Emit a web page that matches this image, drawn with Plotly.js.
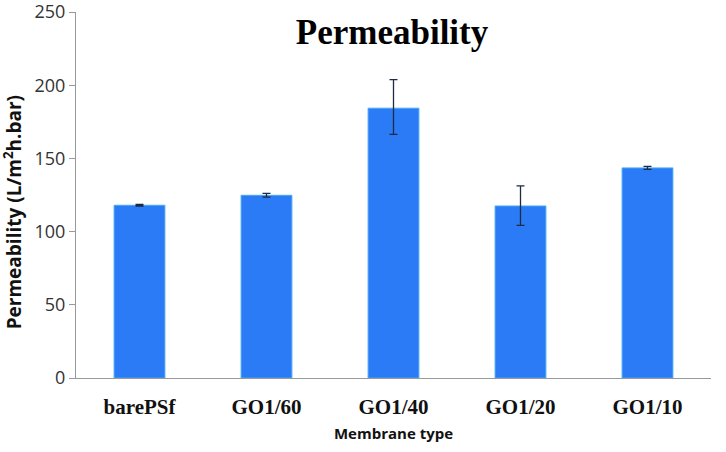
<!DOCTYPE html>
<html>
<head>
<meta charset="utf-8">
<script src="https://cdn.plot.ly/plotly-3.0.1.min.js"></script>
<style>
  html, body { margin: 0; padding: 0; background: #fff; }
  #chart { width: 726px; height: 452px; }
</style>
</head>
<body>
<div id="chart"></div>
<script>
// membrane types and measured permeability
const membranes = ["barePSf", "GO1/60", "GO1/40", "GO1/20", "GO1/10"];
const permeability = [118, 124.8, 184.3, 117.5, 143.5];
const errPlus = [0.5, 1.3, 19.5, 13.8, 1.0];
const errMinus = [0.5, 1.3, 17.9, 13.3, 1.0];
const yTicks = [0, 50, 100, 150, 200, 250];

var data = [{
    x: membranes,
    y: permeability,
    type: "bar",
    marker: { color: "#2b7bf7", line: { color: "#45a8f5", width: 1 } },
    error_y: {
        type: "data",
        symmetric: false,
        array: errPlus,
        arrayminus: errMinus,
        color: "#1f2a44",
        thickness: 1.3,
        width: 4
    },
    hoverinfo: "none"
}];

var layout = {
    width: 726,
    height: 452,
    margin: { l: 76, r: 15, t: 12, b: 74 },
    paper_bgcolor: "#fff",
    plot_bgcolor: "#fff",
    bargap: 0.6,
    showlegend: false,
    title: {
        text: "<b>Permeability</b>",
        font: { family: "Liberation Serif, Times New Roman, serif", size: 35, color: "#000" },
        x: 0.54, xanchor: "center",
        y: 0.93, yanchor: "middle"
    },
    xaxis: {
        showline: true,
        linecolor: "#999",
        linewidth: 1,
        ticks: "",
        tickvals: membranes,
        ticktext: membranes.map(m => "<b>" + m + "</b>"),
        tickfont: { family: "Liberation Serif, Times New Roman, serif", size: 21, color: "#111" },
        ticklabelstandoff: 10,
        title: {
            text: "<b>Membrane type</b>",
            font: { family: "Open Sans, sans-serif", size: 15, color: "#111" },
            standoff: 10
        }
    },
    yaxis: {
        range: [0, 250.01],
        tickvals: yTicks,
        showline: true,
        linecolor: "#999",
        linewidth: 1,
        ticks: "outside",
        ticklen: 6,
        tickcolor: "#999",
        showgrid: false,
        zeroline: false,
        ticklabeloverflow: "allow",
        tickfont: { family: "Open Sans, sans-serif", size: 18, color: "#333" }
    },
    annotations: [{
        text: "<b>Permeability (L/m<sup>2</sup>h.bar)</b>",
        font: { family: "Open Sans, sans-serif", size: 19, color: "#111" },
        textangle: -90,
        xref: "paper", yref: "paper",
        x: -0.099, xanchor: "center",
        y: 0.453, yanchor: "middle",
        showarrow: false
    }]
};

Plotly.newPlot("chart", data, layout, { staticPlot: true });
</script>
</body>
</html>
